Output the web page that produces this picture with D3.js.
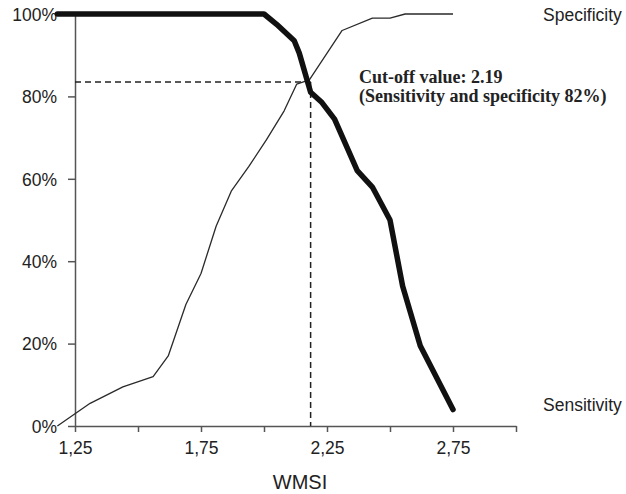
<!DOCTYPE html>
<html>
<head>
<meta charset="utf-8">
<script src="https://cdnjs.cloudflare.com/ajax/libs/d3/7.8.5/d3.min.js"></script>
<style>
  body { margin: 0; background: #fff; }
  svg { display: block; }
</style>
</head>
<body>
<svg id="chart" width="626" height="494"></svg>
<script>
'use strict';

/* data (WMSI, percent) */
var sensWmsi = [1.18, 2.0, 2.05, 2.12, 2.14, 2.185, 2.23, 2.28, 2.37, 2.43, 2.5, 2.55, 2.62, 2.75];
var sensPct  = [100, 100, 97.5, 93.5, 90.5, 81, 78.5, 74.5, 62, 58, 50, 34, 19.5, 4];

var specWmsi = [1.18, 1.31, 1.44, 1.56, 1.62, 1.69, 1.75, 1.81, 1.87, 1.94, 2.01, 2.08, 2.13, 2.18, 2.31, 2.43, 2.5, 2.56, 2.75];
var specPct  = [0, 5.5, 9.5, 12, 17, 29.5, 37, 48.5, 57, 63, 69.5, 76.5, 83, 84, 96, 99, 99, 100, 100];

var xTicks = [1.25, 1.5, 1.75, 2.0, 2.25, 2.5, 2.75, 3.0];
var xLabels = [1.25, 1.75, 2.25, 2.75];
var yTicks = [0, 20, 40, 60, 80, 100];

var cutoff = [2.185, 83.5];
var noteLines = ['Cut-off value: 2.19', '(Sensitivity and specificity 82%)'];

var svg = d3.select('#chart');

var x = d3.scaleLinear().domain([1.25, 3.0]).range([75, 516]),
    y = d3.scaleLinear().domain([0, 100]).range([426, 14]);

var axisColor = '#555';
var font = '"Liberation Sans", Arial, Helvetica, sans-serif';

/* axes */
var gx = svg.append('g')
  .attr('transform', 'translate(0,' + y(0) + ')')
  .call(d3.axisBottom(x)
    .tickValues(xTicks)
    .tickSize(6)
    .tickSizeOuter(0)
    .tickFormat(function (d) {
      return xLabels.indexOf(d) >= 0 ? d3.format('.2f')(d).replace('.', ',') : '';
    }));

var gy = svg.append('g')
  .attr('transform', 'translate(' + x(1.25) + ',0)')
  .call(d3.axisLeft(y)
    .tickValues(yTicks)
    .tickSize(7)
    .tickSizeOuter(0)
    .tickFormat(function (d) { return d + '%'; }));

[gx, gy].forEach(function (g) {
  g.select('.domain').attr('stroke', axisColor).attr('stroke-width', 1.5);
  g.selectAll('.tick line').attr('stroke', axisColor).attr('stroke-width', 1.5);
  g.selectAll('.tick text')
    .attr('fill', '#222')
    .style('font-family', font)
    .style('font-size', '17.5px');
});
gx.selectAll('.tick text').attr('dy', null).attr('y', 28);
gy.selectAll('.tick text').attr('x', -18).attr('dy', '0.36em');

/* cut-off guides */
svg.append('line')
  .attr('x1', x(1.25)).attr('x2', x(cutoff[0]))
  .attr('y1', y(cutoff[1])).attr('y2', y(cutoff[1]))
  .attr('stroke', '#222').attr('stroke-width', 1.5)
  .attr('stroke-dasharray', '6,4');
svg.append('line')
  .attr('x1', x(cutoff[0])).attr('x2', x(cutoff[0]))
  .attr('y1', y(cutoff[1])).attr('y2', y(0))
  .attr('stroke', '#222').attr('stroke-width', 1.5)
  .attr('stroke-dasharray', '6,4');

/* curves */
var line = d3.line()
  .x(function (d) { return x(d[0]); })
  .y(function (d) { return y(d[1]); });

svg.append('path')
  .datum(d3.zip(specWmsi, specPct))
  .attr('d', line)
  .attr('fill', 'none')
  .attr('stroke', '#2a2a2a')
  .attr('stroke-width', 1.3)
  .attr('stroke-linejoin', 'round');

svg.append('path')
  .datum(d3.zip(sensWmsi, sensPct))
  .attr('d', line)
  .attr('fill', 'none')
  .attr('stroke', '#111')
  .attr('stroke-width', 5.5)
  .attr('stroke-linejoin', 'round')
  .attr('stroke-linecap', 'round');

/* labels */
svg.append('text')
  .attr('x', 543).attr('y', 21)
  .style('font-family', font).style('font-size', '17.5px')
  .attr('fill', '#222')
  .text('Specificity');

svg.append('text')
  .attr('x', 543).attr('y', 411)
  .style('font-family', font).style('font-size', '17.5px')
  .attr('fill', '#222')
  .text('Sensitivity');

svg.append('text')
  .attr('x', 300).attr('y', 489)
  .attr('text-anchor', 'middle')
  .style('font-family', font).style('font-size', '20px')
  .attr('fill', '#222')
  .text('WMSI');

svg.append('g').selectAll('text')
  .data(noteLines)
  .enter().append('text')
  .attr('x', 359)
  .attr('y', function (d, i) { return 83 + i * 19; })
  .style('font-family', '"Liberation Serif", "Times New Roman", serif')
  .style('font-size', '18px')
  .style('font-weight', 'bold')
  .attr('fill', '#222')
  .text(function (d) { return d; });
</script>
</body>
</html>
